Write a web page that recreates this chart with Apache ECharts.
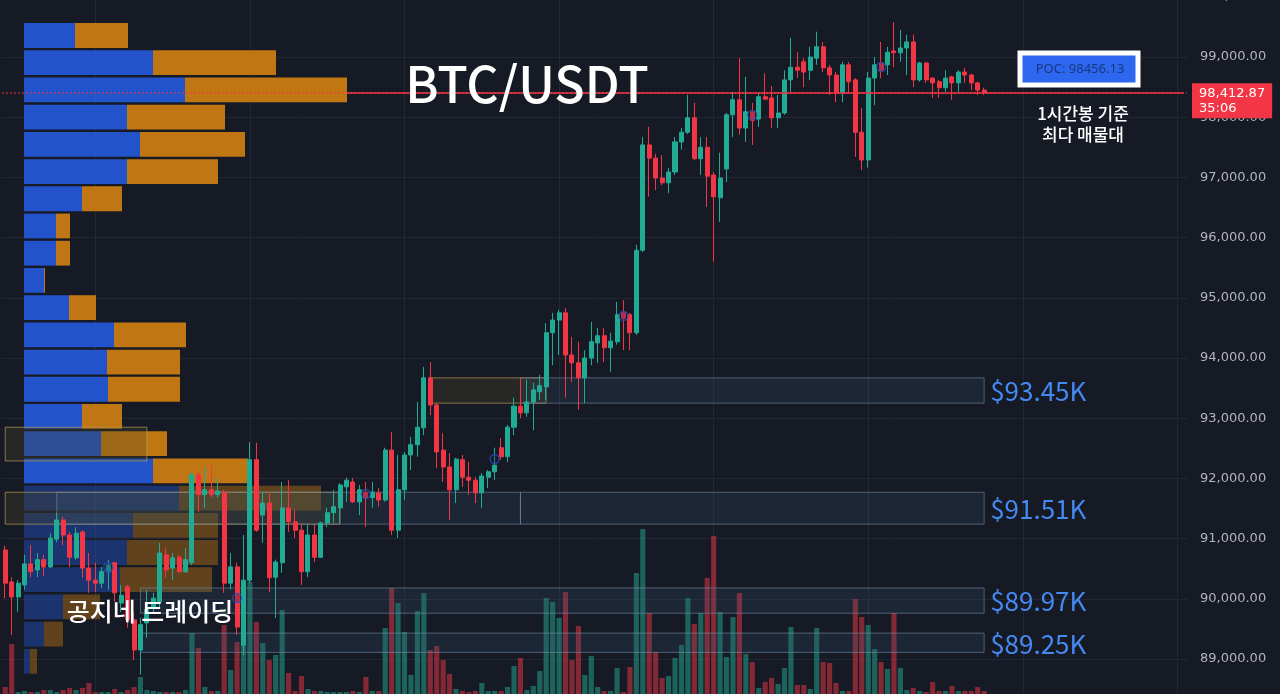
<!DOCTYPE html>
<html><head><meta charset="utf-8">
<script src="https://cdn.jsdelivr.net/npm/echarts@6/dist/echarts.min.js"></script>
<style>html,body{margin:0;padding:0;background:#161a25;}#c{width:1280px;height:694px;}</style>
</head><body><div id="c"></div><script>
// ---------- DATA ----------
const totalSlots = 184;
const categories = Array.from({length: totalSlots}, (_, i) => 'H' + i);
// [open, close, low, high]
const candles = [
[90810,90260,90010,90880],[90280,90030,89400,90360],[90030,90260,89780,90310],[90230,90580,90150,90730],
[90580,90450,90360,90890],[90480,90650,90360,90760],[90650,90530,90380,90730],[90530,91010,90510,91090],
[90990,91310,90940,91430],[91310,91060,90890,91360],[91060,90690,90530,91110],[90680,91090,90650,91190],
[91110,90510,90350,91140],[90510,90310,90100,90760],[90310,90260,90110,90600],[90260,90450,90180,90530],
[90450,90560,90150,90650],[90600,90100,89950,90610],[89930,90060,89780,90230],[90200,89650,89520,90230],
[89650,89150,88980,89770],[89150,89570,88740,89680],[89600,89820,89350,90150],[89850,90010,89780,90100],
[89950,90760,89860,90930],[90730,90480,90350,90840],[90510,90680,90310,90760],[90690,90450,90430,90730],
[90450,90650,90430,90840],[90600,92060,90560,92090],[92060,91730,91440,92110],[91730,91810,91510,92190],
[91810,91730,91680,92220],[91730,91790,91680,92010],[91770,90260,90100,91810],[90260,90530,90150,90760],
[90530,89530,89400,90600],[89230,90310,89070,91060],[90310,92310,90260,92600],[92310,91140,91110,92590],
[91390,91590,90930,91770],[91590,90350,90110,91770],[90360,90610,89680,90650],[90600,91510,90430,91940],
[91510,91280,91110,91970],[91280,91140,91010,91480],[91140,90450,90230,91230],[90450,91060,90360,91230],
[91060,90690,90610,91230],[90690,91260,90680,91280],[91260,91430,91190,91510],[91430,91530,91260,91810],
[91510,91890,91260,91920],[91860,91970,91610,92010],[91940,91610,91590,92010],[91610,91810,91390,91890],
[91770,91680,91190,91940],[91680,91770,91510,91940],[91760,91640,91530,91840],[91640,92470,91610,92510],
[92470,91140,91060,92770],[91140,91810,91010,92390],[91810,92390,91640,92440],[92390,92560,92140,92690],
[92560,92850,92360,93270],[92840,93670,92720,93850],[93670,93220,93050,93930],[93220,92440,92170,93250],
[92470,92190,91940,92750],[92190,91810,91310,92420],[91810,92320,91590,92340],[92310,92020,91860,92390],
[92020,91970,91730,92270],[91970,91760,91590,92020],[91760,92040,91510,92090],[92020,92110,91840,92140],
[92110,92220,91970,92510],[92510,92360,92310,92670],[92360,92850,92270,92890],[92850,93200,92720,93340],
[93200,93090,93000,93670],[93090,93270,93020,93640],[93270,93470,92800,93590],[93440,93540,93300,93720],
[93520,94420,93300,94580],[94420,94630,93880,94750],[94630,94750,94050,94800],[94750,94050,93340,94830],
[94050,93920,93600,94350],[93920,93670,93140,94270],[93670,94000,93250,94130],[94000,94270,93880,94600],
[94250,94370,93920,94500],[94370,94170,93930,94500],[94170,94280,93770,94420],[94270,94720,94220,94930],
[94760,94660,94130,94960],[94720,94420,94130,94750],[94420,95790,94380,95880],[95790,97540,95760,97670],
[97540,97320,96680,97840],[97320,96990,96790,97390],[96990,96910,96870,97370],[96910,97090,96740,97160],
[97090,97590,97040,97670],[97590,97750,97460,97820],[97750,97990,97720,98370],[97990,97310,97290,98240],
[97310,97500,97040,97670],[97500,97020,96510,97670],[97040,96680,95600,97090],[96660,96990,96260,97410],
[97140,98040,96920,98070],[98040,98290,97670,98420],[98290,97820,97710,98980],[97820,98090,97590,98670],
[98090,97950,97540,98240],[97970,98340,97840,98400],[98340,98300,98290,98730],[98320,97990,97820,98520],
[97990,98070,97820,98370],[98070,98620,98040,98780],[98620,98830,98420,99320],[98830,98780,98650,99080],
[98920,98750,98500,98980],[98780,99000,98620,99170],[98980,99170,98870,99420],[99170,98820,98750,99250],
[98820,98700,98370,98870],[98700,98400,98250,98750],[98400,98870,98250,98920],[98870,98590,98400,98920],
[98620,97750,97340,98650],[97750,97290,97120,98150],[97290,98650,97160,98750],[98650,98870,98200,99000],
[98900,98780,98650,99250],[98870,99080,98700,99170],[99100,99070,98830,99580],[99070,99150,98920,99450],
[99150,99250,98700,99370],[99250,98620,98500,99370],[98620,98900,98590,98920],[98900,98620,98570,98920],
[98650,98570,98320,98660],[98590,98490,98320,98620],[98490,98650,98420,98780],[98670,98570,98290,98690],
[98570,98750,98420,98780],[98750,98700,98570,98820],[98700,98570,98450,98720],[98570,98450,98370,98590],
[98450,98412.87,98370,98490]
];
const volumes = [
7,50,2,3,2,2,4,4,2,4,6,4,6,11,2,2,2,5,2,4,
7,17,4,3,2,2,2,2,4,61,46,7,3,3,69,24,52,106,112,72,
51,34,39,84,21,3,18,5,3,3,2,2,2,2,3,2,17,3,3,66,
106,91,62,19,83,101,44,48,34,20,5,3,2,3,11,3,3,3,7,28,
36,4,8,23,96,92,76,102,34,68,19,38,7,3,3,26,2,27,121,165,
81,42,16,18,36,49,96,70,81,116,158,82,37,77,101,40,32,6,12,16,
10,26,67,9,9,5,66,32,31,11,3,3,95,77,69,45,32,25,81,26,
4,6,3,2,12,3,3,8,3,3,3,7,3
];
const markerIdx = [16, 36, 56, 76, 96, 116, 136];
const markerPrice = [90528, 90013, 91741, 92322, 94698, 98037, 98834];

const profileCenter = [99357,98905,98453,98001,97549,97097,96645,96193,95741,95289,94837,94385,
  93933,93481,93029,92577,92125,91673,91221,90769,90317,89865,89413,88961];
const profileBuy  = [51,129,161,103,116,103,58,32,32,20,45,90,83,84,58,77,129,155,109,103,96,39,20,6];
const profileSell = [53,123,162,98,105,91,40,14,14,1,27,72,73,72,40,66,95,142,85,91,92,37,19,7];
const profileRowSize = 452;
const valueAreaLow = 91900;

const zoneStart = [0, 66, 80, 0, 8, 80, 21, 21];
const zoneEnd   = [22, 84, 152, 52, 80, 152, 152, 152];
const zoneLow   = [92290, 93250, 93250, 91240, 91240, 91240, 89760, 89110];
const zoneHigh  = [92850, 93670, 93670, 91770, 91770, 91770, 90180, 89430];
const zoneKind  = ['gold','gold','blue','gold','blue','blue','blue','blue'];
const zoneLabel = ['', '', '$93.45K', '', '', '$91.51K', '$89.97K', '$89.25K'];

const lastPrice = 98412.87;
const countdown = '35:06';
const pocPrice = 98456.13;
const rayStartIdx = 53;

// ---------- CHART ----------
const UP = '#22ab94', DOWN = '#f23645';
const fmt = v => v.toLocaleString('en-US', {minimumFractionDigits: 2, maximumFractionDigits: 2});
const chart = echarts.init(document.getElementById('c'), null, {renderer: 'canvas'});

const option = {
  backgroundColor: '#161a25',
  animation: false,
  grid: [
    {left: 2, right: 93, top: -3.2, bottom: -25.2, outerBoundsMode: 'none', containLabel: false},
    {left: 2, right: 93, top: 0, bottom: 0, outerBoundsMode: 'none', containLabel: false},
    {left: 24, width: 1000, top: -3.2, bottom: -25.2, outerBoundsMode: 'none', containLabel: false}
  ],
  xAxis: [
    {gridIndex: 0, type: 'category', data: categories, boundaryGap: true,
     axisLine: {show: false}, axisTick: {show: false}, axisLabel: {show: false},
     splitLine: {show: true, alignWithLabel: true, interval: (i) => (i - 14) % 24 === 0,
                 lineStyle: {color: '#232733', width: 1}}},
    {gridIndex: 1, type: 'category', data: categories, show: false},
    {gridIndex: 2, type: 'value', min: 0, max: 1000, show: false}
  ],
  yAxis: [
    {gridIndex: 0, type: 'value', position: 'right', min: 88000, max: 100000, interval: 1000,
     axisLine: {show: false}, axisTick: {show: false},
     axisLabel: {color: '#b2b5be', fontSize: 13, fontFamily: 'DejaVu Sans', margin: 13,
                 showMinLabel: true, showMaxLabel: true, formatter: v => fmt(v)},
     splitLine: {lineStyle: {color: '#232733', width: 1}}},
    {gridIndex: 1, type: 'value', min: 0, max: 694, show: false},
    {gridIndex: 2, type: 'value', min: 88000, max: 100000, show: false}
  ],
  series: [
    {
      type: 'custom', name: 'profile', xAxisIndex: 2, yAxisIndex: 2, z: 1, silent: true,
      data: profileCenter.map((c, i) => [c, profileBuy[i], profileSell[i]]),
      encode: {x: [1, 2], y: 0},
      renderItem: (params, api) => {
        const c = api.value(0), b = api.value(1), s = api.value(2);
        const half = profileRowSize / 2;
        const p0 = api.coord([0, c + half]);
        const pB = api.coord([b, c - half]);
        const pS = api.coord([b + s, c - half]);
        const g = 1.2;
        const op = c < valueAreaLow ? 0.42 : 0.95;
        return {type: 'group', children: [
          {type: 'rect', shape: {x: p0[0], y: p0[1] + g, width: pB[0] - p0[0], height: pB[1] - p0[1] - 2 * g},
           style: {fill: '#2356d3', opacity: op}},
          {type: 'rect', shape: {x: pB[0], y: p0[1] + g, width: pS[0] - pB[0], height: pB[1] - p0[1] - 2 * g},
           style: {fill: '#c97b12', opacity: op}}
        ]};
      }
    },
    {
      type: 'bar', name: 'volume', xAxisIndex: 1, yAxisIndex: 1, z: 2, barWidth: '80%', silent: true,
      data: volumes.map((v, i) => ({value: v, itemStyle: {color: candles[i][1] >= candles[i][0] ? 'rgba(34,171,148,0.5)' : 'rgba(242,54,69,0.5)'}}))
    },
    {
      type: 'custom', name: 'zones', xAxisIndex: 0, yAxisIndex: 0, z: 3, silent: true,
      data: zoneStart.map((s, i) => [s, zoneEnd[i], zoneLow[i], zoneHigh[i]]),
      encode: {x: [0, 1], y: [2, 3]},
      renderItem: (params, api) => {
        const i = params.dataIndex;
        const a = api.coord([api.value(0), api.value(3)]);
        const b = api.coord([api.value(1), api.value(2)]);
        const gold = zoneKind[i] === 'gold';
        const children = [{
          type: 'rect', shape: {x: a[0], y: a[1], width: b[0] - a[0], height: b[1] - a[1]},
          style: {fill: gold ? 'rgba(80,72,40,0.30)' : 'rgba(60,90,120,0.20)',
                  stroke: gold ? 'rgba(190,165,90,0.65)' : 'rgba(120,150,175,0.55)', lineWidth: 1}
        }];
        if (zoneLabel[i]) {
          children.push({type: 'text', style: {text: zoneLabel[i], x: b[0] + 6, y: (a[1] + b[1]) / 2 + 1,
            fill: '#4589f2', font: '26px "Noto Sans CJK KR"', align: 'left', verticalAlign: 'middle',
            textAlign: 'left', textVerticalAlign: 'middle'}});
        }
        return {type: 'group', children};
      }
    },
    {
      type: 'candlestick', name: 'BTC/USDT', xAxisIndex: 0, yAxisIndex: 0, z: 4, barWidth: '70%',
      data: candles,
      itemStyle: {color: UP, color0: DOWN, borderColor: UP, borderColor0: DOWN, borderWidth: 1},
      markLine: {
        silent: true, symbol: ['none', 'none'], precision: 2,
        data: [
          {yAxis: lastPrice, lineStyle: {type: 'dotted', width: 2, color: 'rgba(242,54,69,0.5)'},
           label: {show: true, position: 'end', distance: 5, formatter: () => fmt(lastPrice) + '\n' + countdown,
                   backgroundColor: '#f23645', color: '#ffffff', fontSize: 13, fontFamily: 'DejaVu Sans',
                   lineHeight: 15, padding: [3, 7, 2, 7], align: 'left', verticalAlign: 'top', offset: [0, -9]}},
          [{xAxis: rayStartIdx, yAxis: lastPrice, label: {show: false},
            lineStyle: {type: 'solid', width: 1.5, color: '#f23645'}},
           {xAxis: totalSlots - 1, yAxis: lastPrice}]
        ]
      }
    },
    {
      type: 'scatter', name: 'markers', xAxisIndex: 0, yAxisIndex: 0, z: 5, silent: true,
      symbol: 'circle', symbolSize: 9,
      data: markerIdx.map((x, k) => [x, markerPrice[k]]),
      itemStyle: {color: 'rgba(20,30,80,0.35)', borderColor: '#2b4db5', borderWidth: 1.3}
    }
  ],
  graphic: [
    {type: 'text', x: 527, y: 84, z: 10, silent: true,
     style: {text: 'BTC/USDT', fill: '#ffffff', font: '500 50px "Noto Sans CJK KR"',
             align: 'center', verticalAlign: 'middle', textAlign: 'center', textVerticalAlign: 'middle'}},
    {type: 'text', x: 150, y: 611, z: 10, silent: true,
     style: {text: '공지네 트레이딩', fill: '#ffffff', font: '500 25px "Noto Sans CJK KR"',
             align: 'center', verticalAlign: 'middle', textAlign: 'center', textVerticalAlign: 'middle'}},
    {type: 'rect', z: 10, silent: true, shape: {x: 1020, y: 53, width: 118, height: 32},
     style: {fill: '#2d67f0', stroke: '#ffffff', lineWidth: 5}},
    {type: 'text', x: 1080, y: 69.5, z: 11, silent: true,
     style: {text: 'POC: ' + pocPrice.toFixed(2), fill: '#1c3680', font: '13px "Noto Sans"',
             align: 'center', verticalAlign: 'middle', textAlign: 'center', textVerticalAlign: 'middle'}},
    {type: 'text', x: 1083, y: 114, z: 10, silent: true,
     style: {text: '1시간봉 기준', fill: '#ffffff', font: '500 17px "Noto Sans CJK KR"',
             align: 'center', verticalAlign: 'middle', textAlign: 'center', textVerticalAlign: 'middle'}},
    {type: 'text', x: 1083, y: 135, z: 10, silent: true,
     style: {text: '최다 매물대', fill: '#ffffff', font: '500 17px "Noto Sans CJK KR"',
             align: 'center', verticalAlign: 'middle', textAlign: 'center', textVerticalAlign: 'middle'}}
  ]
};
chart.setOption(option);
</script></body></html>
